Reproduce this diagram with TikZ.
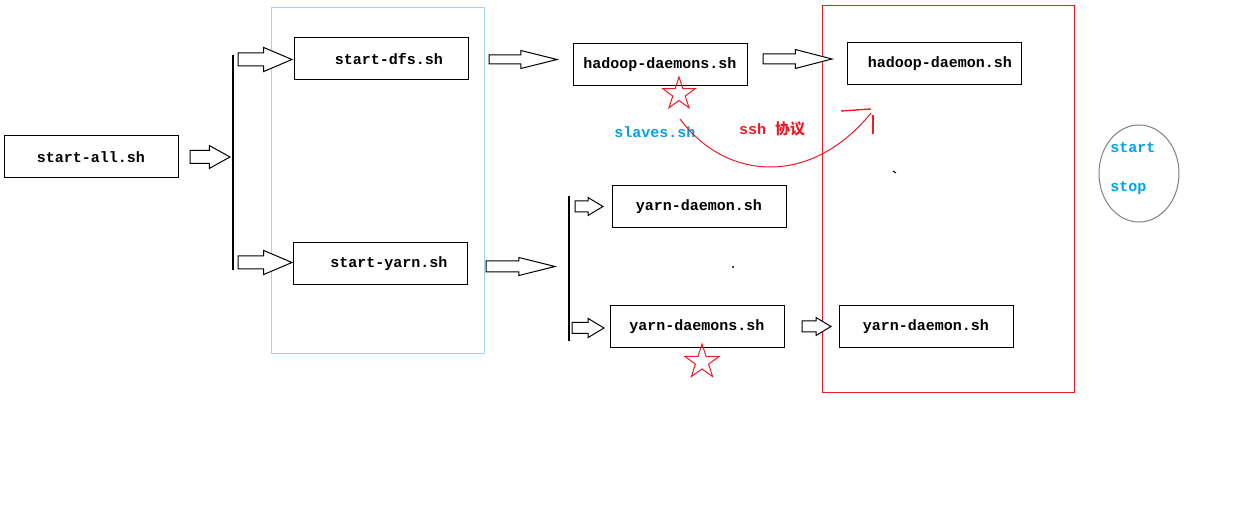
\documentclass[tikz,border=0pt]{standalone}
\usepackage{fontspec}
\setmonofont{Liberation Mono}
\newfontfamily\cjk{Noto Sans CJK SC}
\usetikzlibrary{shapes,shapes.geometric,shapes.arrows}

\definecolor{paintred}{RGB}{237,28,36}
\definecolor{paintcyan}{RGB}{0,162,232}
\definecolor{framecyan}{RGB}{153,217,234}

\begin{document}
\begin{tikzpicture}[x=0.5pt, y=-0.5pt, font=\ttfamily\bfseries\fontsize{7.5}{9}\selectfont]
    % Styles
    \tikzstyle{script} = [rectangle, draw, line width=0.5pt, minimum width=87pt, minimum height=21pt, inner sep=0pt]
    \tikzstyle{bigarrow} = [single arrow, draw, line width=0.5pt, fill=white, inner xsep=0pt, outer sep=0pt, anchor=tip]
    \tikzstyle{starmark} = [star, star points=5, star point ratio=2.6, draw=paintred, line width=0.5pt, inner sep=0pt]

    \useasboundingbox (0,0) rectangle (1255,513);

    % Frames
    \draw[framecyan, line width=0.5pt] (271,8) rectangle (484,354);
    \draw[paintred, line width=0.5pt] (822,6) rectangle (1074,393);

    % Nodes
    \node[script] (all) at (91,157) {start-all.sh};
    \node[script] (dfs) at (381,59) {\hspace*{8pt}start-dfs.sh};
    \node[script] (yarn) at (380,264) {\hspace*{9pt}start-yarn.sh};
    \node[script] (hds) at (660,65) {hadoop-daemons.sh};
    \node[script] (hd) at (934,64) {\hspace*{6pt}hadoop-daemon.sh};
    \node[script] (yd) at (699,207) {yarn-daemon.sh};
    \node[script] (yds) at (697,327) {yarn-daemons.sh};
    \node[script] (ydr) at (926,327) {yarn-daemon.sh};

    % Brackets
    \draw[line width=0.6pt] (233,55) -- (233,270);
    \draw[line width=0.6pt] (569,196) -- (569,341);

    % Block arrows
    \node[bigarrow, inner ysep=3pt, minimum height=20pt, single arrow head extend=2.5pt, single arrow tip angle=58] (a1) at (230,157) {};
    \node[bigarrow, inner ysep=3pt, minimum height=27pt, single arrow head extend=2.75pt, single arrow tip angle=46] (a2) at (292,59.5) {};
    \node[bigarrow, inner ysep=3pt, minimum height=27pt, single arrow head extend=2.75pt, single arrow tip angle=46] (a3) at (292,262.5) {};
    \node[bigarrow, inner ysep=2pt, minimum height=34pt, single arrow head extend=2.25pt, single arrow tip angle=28] (a4) at (557,59.5) {};
    \node[bigarrow, inner ysep=2.25pt, minimum height=34.5pt, single arrow head extend=2.25pt, single arrow tip angle=29] (a5) at (832,59) {};
    \node[bigarrow, inner ysep=2.5pt, minimum height=34.5pt, single arrow head extend=1.75pt, single arrow tip angle=28] (a6) at (555,266.5) {};
    \node[bigarrow, inner ysep=2.5pt, minimum height=14pt, single arrow head extend=1.75pt, single arrow tip angle=62] (a7) at (603,206.5) {};
    \node[bigarrow, inner ysep=2.5pt, minimum height=16pt, single arrow head extend=2pt, single arrow tip angle=62] (a8) at (604,328) {};
    \node[bigarrow, inner ysep=2.5pt, minimum height=14.5pt, single arrow head extend=1.75pt, single arrow tip angle=62] (a9) at (831,326.5) {};

    % Stars
    \node[starmark, minimum size=17pt] (star1) at (679,94) {};
    \node[starmark, minimum size=18pt] (star2) at (702,362) {};

    % ssh
    \node[text=paintcyan] (slaves) at (655,132) {slaves.sh};
    \node[text=paintred] (ssh) at (772,129) {ssh {\cjk 协议}};
    \coordinate (sshstart) at (680,119);
    \coordinate (sshend) at (871,113);
    \draw[paintred, line width=0.5pt] (sshstart) .. controls (725,180) and (810,188) .. (sshend);
    \draw[paintred, line width=0.7pt] (841,111) -- (871,109);
    \draw[paintred, line width=0.7pt] (873,115) -- (873,134);

    % Specks
    \fill (733,267) circle (0.6pt);
    \draw[line width=0.5pt] (893,171) -- (896,173);

    % start / stop
    \node[ellipse, draw=gray, line width=0.5pt, minimum width=40pt, minimum height=48.5pt] (ctl) at (1139,173.5) {};
    \node[text=paintcyan, anchor=west, inner sep=0pt] (start) at (1110,148) {start};
    \node[text=paintcyan, anchor=west, inner sep=0pt] (stop) at (1110,188) {stop};

\end{tikzpicture}
\end{document}
